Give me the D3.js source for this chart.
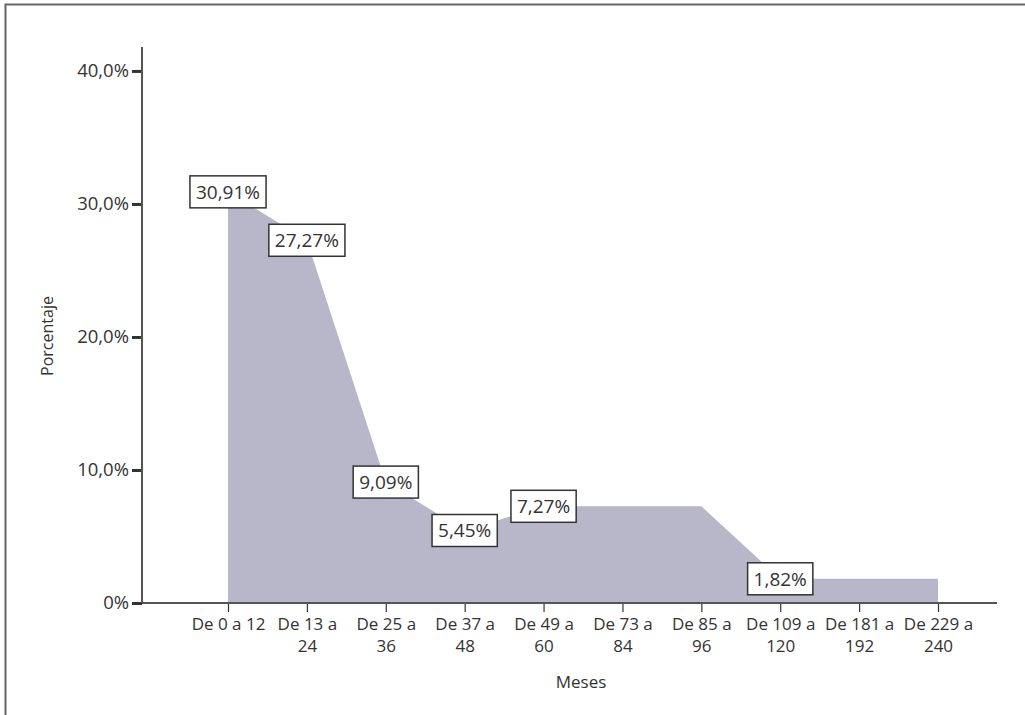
<!DOCTYPE html>
<html>
<head>
<meta charset="utf-8">
<script src="https://cdn.jsdelivr.net/npm/d3@7"></script>
<style>
  body { margin: 0; background: #fff; }
  svg text { font-family: "Open Sans", "Noto Sans", sans-serif; fill: #333; }
</style>
</head>
<body>
<svg id="chart"></svg>
<script>
// Width and height of svg
var width = 1025;
var height = 715;

// data
var categories = ["De 0 a 12", "De 13 a 24", "De 25 a 36", "De 37 a 48", "De 49 a 60",
                  "De 73 a 84", "De 85 a 96", "De 109 a 120", "De 181 a 192", "De 229 a 240"];
var percentages = [30.91, 27.27, 9.09, 5.45, 7.27, 7.27, 7.27, 1.82, 1.82, 1.82];
var yTicks = [0, 10, 20, 30, 40];
// only the first point of each value carries a label
var labelled = [0, 1, 2, 3, 4, 7];

var svg = d3.select("#chart")
            .attr("width", width)
            .attr("height", height);

// outer frame (cut off at right and bottom like the original)
svg.append("path")
   .attr("d", "M5.5,716V4.5H1026")
   .attr("fill", "none")
   .attr("stroke", "#666")
   .attr("stroke-width", 2);

var x = d3.scalePoint()
          .domain(categories)
          .range([228, 938]);

var y = d3.scaleLinear()
          .domain([0, 41.8])
          .range([603, 47]);

var fmtTick = function(d) { return d == 0 ? "0%" : d3.format(".1f")(d).replace(".", ",") + "%"; };
var fmtLabel = function(d) { return d3.format(".2f")(d).replace(".", ",") + "%"; };

// area
var area = d3.area()
             .x(function(d, i) { return x(categories[i]); })
             .y0(y(0))
             .y1(function(d) { return y(d); });

svg.append("path")
   .datum(percentages)
   .attr("d", area)
   .attr("fill", "#b7b7c9");

// y axis
var yAxis = svg.append("g")
   .attr("transform", "translate(142,0)")
   .call(d3.axisLeft(y).tickValues(yTicks).tickFormat(fmtTick).tickSize(10).tickPadding(3));
yAxis.select(".domain").remove();
yAxis.selectAll(".tick line").attr("stroke", "#333").attr("stroke-width", 3);
yAxis.selectAll(".tick text").style("font-size", "18.5px").attr("fill", "#333");

svg.append("line")
   .attr("x1", 142).attr("x2", 142)
   .attr("y1", y.range()[1]).attr("y2", y(0))
   .attr("stroke", "#555").attr("stroke-width", 2);

// x axis
var xAxis = svg.append("g")
   .attr("transform", "translate(0," + y(0) + ")")
   .call(d3.axisBottom(x).tickSize(9).tickPadding(6));
xAxis.select(".domain").remove();
xAxis.selectAll(".tick line").attr("stroke", "#333").attr("stroke-width", 1.2);
xAxis.selectAll(".tick text").style("font-size", "17px").attr("fill", "#333")
   .each(function(d) {
       var t = d3.select(this);
       t.text(null);
       var lines = d.length > 9 ? [d.slice(0, d.lastIndexOf(" ")), d.slice(d.lastIndexOf(" ") + 1)] : [d];
       lines.forEach(function(l, k) {
           t.append("tspan").attr("x", 0).attr("dy", k == 0 ? "0.71em" : "1.3em").text(l);
       });
   });

svg.append("line")
   .attr("x1", 142).attr("x2", 997)
   .attr("y1", y(0)).attr("y2", y(0))
   .attr("stroke", "#555").attr("stroke-width", 2);

// axis titles
svg.append("text")
   .attr("x", 581).attr("y", 688)
   .attr("text-anchor", "middle")
   .style("font-size", "17px")
   .text("Meses");

svg.append("text")
   .attr("transform", "translate(53,336)rotate(-90)")
   .attr("text-anchor", "middle")
   .style("font-size", "16px")
   .text("Porcentaje");

// value labels in boxes
var lab = svg.selectAll(".val")
   .data(labelled)
   .enter()
   .append("g")
   .attr("class", "val")
   .attr("transform", function(i) { return "translate(" + x(categories[i]) + "," + y(percentages[i]) + ")"; });

lab.append("text")
   .attr("text-anchor", "middle")
   .attr("dy", "0.36em")
   .style("font-size", "19px")
   .text(function(i) { return fmtLabel(percentages[i]); });

lab.each(function() {
    var g = d3.select(this);
    var b = g.select("text").node().getBBox();
    g.insert("rect", "text")
     .attr("x", b.x - 6).attr("y", -16)
     .attr("width", b.width + 12).attr("height", 32)
     .attr("fill", "#fff")
     .attr("stroke", "#333")
     .attr("stroke-width", 1.5);
});
</script>
</body>
</html>
